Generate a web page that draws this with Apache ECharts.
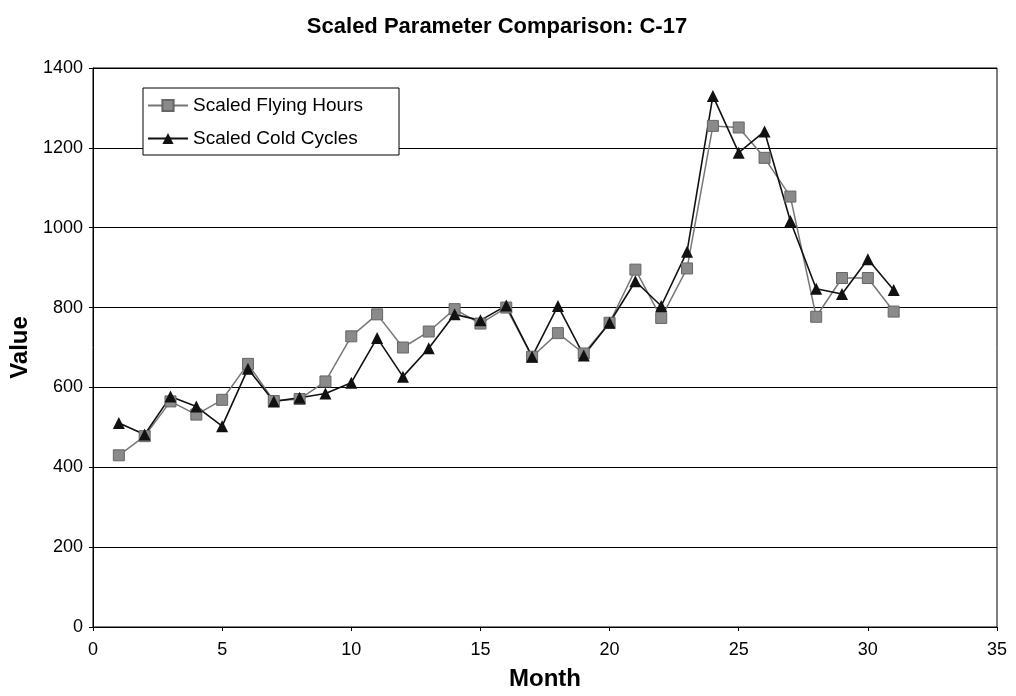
<!DOCTYPE html>
<html>
<head>
<meta charset="utf-8">
<style>
  html, body { margin: 0; padding: 0; background: #fff; }
  #chart { width: 1016px; height: 696px; }
</style>
<script src="https://cdn.jsdelivr.net/npm/echarts@6/dist/echarts.min.js"></script>
</head>
<body>
<div id="chart"></div>
<script>
// months 1..31
var months = [1, 2, 3, 4, 5, 6, 7, 8, 9, 10, 11, 12, 13, 14, 15, 16, 17, 18, 19, 20,
  21, 22, 23, 24, 25, 26, 27, 28, 29, 30, 31];
var flyingHours = [430, 478, 565, 532, 569, 659, 566, 571, 615, 728, 783, 700, 740, 796, 760, 800,
  677, 736, 685, 762, 895, 774, 898, 1255, 1251, 1175, 1078, 777, 874, 874, 790];
var coldCycles = [511, 482, 577, 552, 503, 647, 565, 574, 585, 612, 724, 627, 698, 783, 768, 805,
  677, 804, 680, 762, 866, 804, 940, 1330, 1188, 1241, 1017, 847, 834, 921, 844];

function pairs(ys) {
  return months.map(function (m, i) { return [m, ys[i]]; });
}

var font = 'Liberation Sans, Arial, sans-serif';
var myChart = echarts.init(document.getElementById('chart'));

myChart.setOption({
  backgroundColor: '#fff',
  animation: false,
  title: {
    text: 'Scaled Parameter Comparison: C-17',
    left: 492,
    textAlign: 'center',
    top: 11,
    textStyle: { fontFamily: font, fontWeight: 'bold', fontSize: 22, color: '#000' }
  },
  legend: {
    orient: 'vertical',
    left: 143,
    top: 88,
    backgroundColor: '#fff',
    borderColor: '#000',
    borderWidth: 1,
    padding: [8, 36, 7, 4],
    itemGap: 14,
    itemWidth: 40,
    itemHeight: 14,
    textStyle: { fontFamily: font, fontSize: 19, color: '#000' },
    data: ['Scaled Flying Hours', 'Scaled Cold Cycles']
  },
  grid: {
    left: 93,
    right: 19,
    top: 68,
    bottom: 68,
    show: true,
    borderColor: '#000',
    borderWidth: 1
  },
  xAxis: {
    type: 'value',
    min: 0,
    max: 35,
    interval: 5,
    name: 'Month',
    nameLocation: 'middle',
    nameGap: 40,
    nameTextStyle: { fontFamily: font, fontWeight: 'bold', fontSize: 24, color: '#000' },
    axisLine: { lineStyle: { color: '#000', width: 1 } },
    axisTick: { show: true, length: 4, lineStyle: { color: '#000' } },
    axisLabel: { fontFamily: font, fontSize: 18, color: '#000', margin: 14 },
    splitLine: { show: false }
  },
  yAxis: {
    type: 'value',
    min: 0,
    max: 1400,
    interval: 200,
    name: 'Value',
    nameLocation: 'middle',
    nameGap: 52,
    nameTextStyle: { fontFamily: font, fontWeight: 'bold', fontSize: 24, color: '#000' },
    axisLine: { show: true, lineStyle: { color: '#000', width: 1 } },
    axisTick: { show: true, length: 4, lineStyle: { color: '#000' } },
    axisLabel: {
      fontFamily: font, fontSize: 18, color: '#000', margin: 10,
      formatter: function (v) { return String(v); }
    },
    splitLine: { show: true, lineStyle: { color: '#000', width: 1.2 } }
  },
  series: [{
    name: 'Scaled Flying Hours',
    type: 'line',
    data: pairs(flyingHours),
    symbol: 'rect',
    symbolSize: 11,
    itemStyle: { color: '#8a8a8a', borderColor: '#666', borderWidth: 1 },
    lineStyle: { color: '#777', width: 1.5 }
  }, {
    name: 'Scaled Cold Cycles',
    type: 'line',
    data: pairs(coldCycles),
    symbol: 'triangle',
    symbolSize: 12,
    itemStyle: { color: '#111' },
    lineStyle: { color: '#111', width: 1.6 }
  }]
});
</script>
</body>
</html>
